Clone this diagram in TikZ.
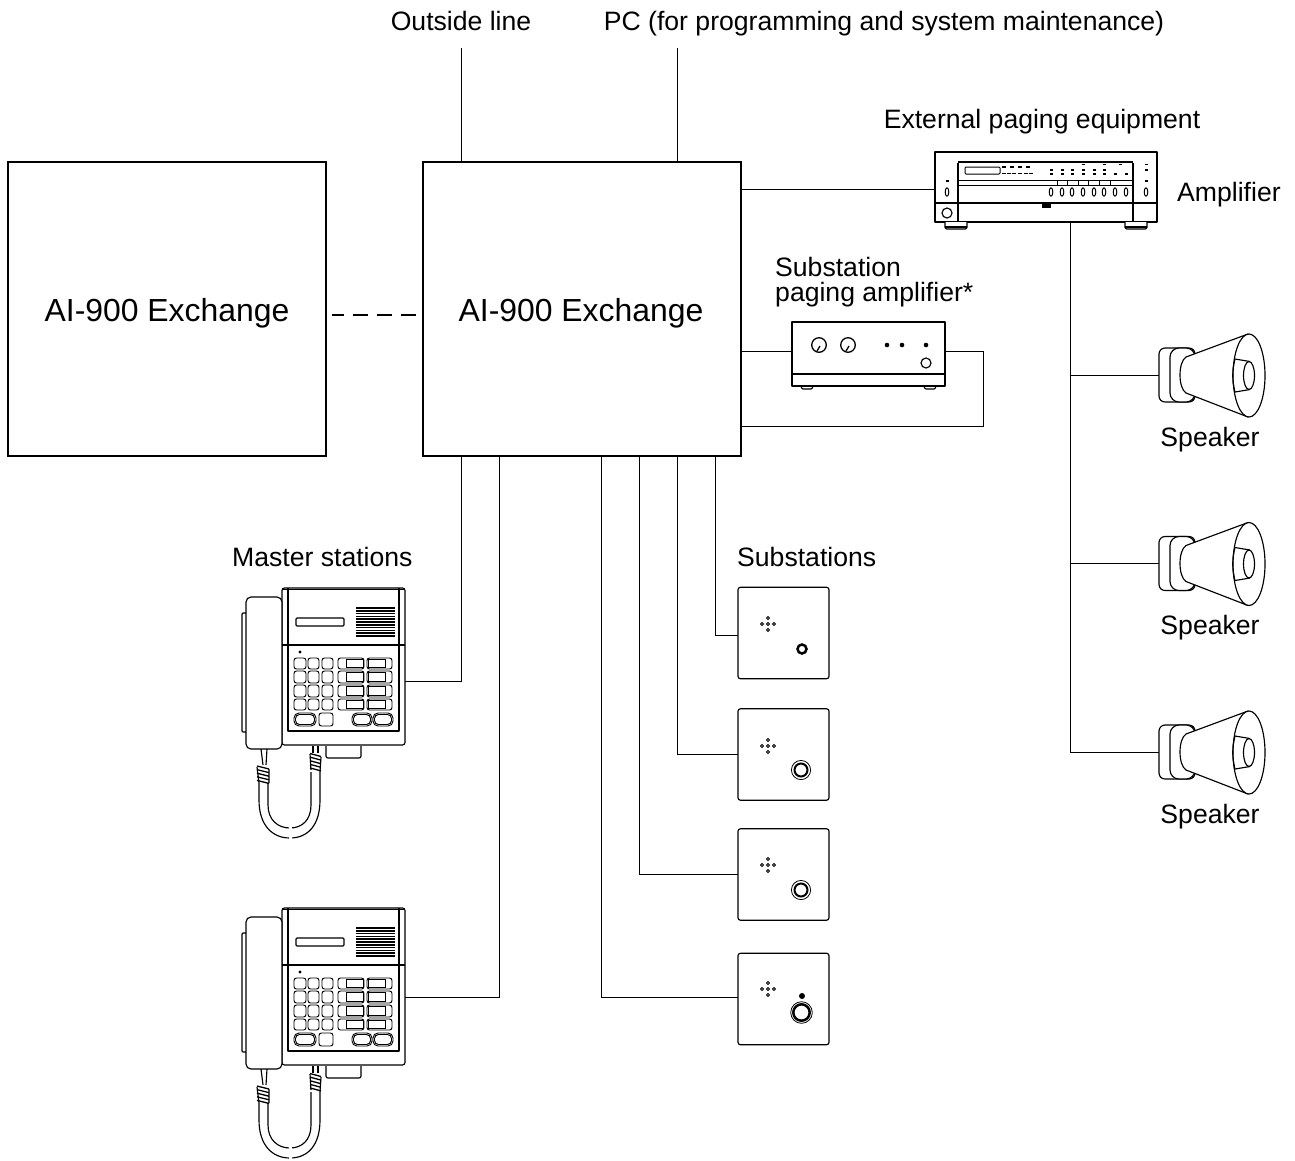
\documentclass[tikz,border=0pt]{standalone}
\usepackage{fontspec}
\setmainfont{Liberation Sans}
\tikzset{
  x=1pt,y=-1pt,
  wire/.style={line width=1pt,line cap=butt},
  dev/.style={line width=1.15pt,line join=round},
  thin part/.style={line width=.95pt},
  devbox/.style={draw,dev,fill=white,inner sep=0,outer sep=0},
  exch/.style={draw,line width=2pt,inner sep=0,outer sep=0,minimum width=318pt,minimum height=294pt},
  lab/.style={anchor=base west,inner sep=0,font=\fontsize{26.6pt}{30pt}\selectfont},
  labm/.style={anchor=base,inner sep=0,font=\fontsize{26.6pt}{30pt}\selectfont},
  substn/.style={devbox,rounded corners=2.5pt,minimum width=91pt,minimum height=91.5pt},
  phonebody/.style={devbox,rounded corners=2.5pt,minimum width=123pt,minimum height=157pt},
  spkplate/.style={devbox,rounded corners=6pt,minimum width=36pt,minimum height=54pt},
  keyk/.style={thin part,rounded corners=2.5pt},
  phone/.pic={
    \draw[dev,fill=white,rounded corners=1pt] (242,613) rectangle (247,732);
    \draw[dev,fill=white,rounded corners=5pt] (246,597) rectangle (282,749);
    \draw[dev] (288,645) -- (288,731) -- (399,731) -- (399,645);
    \draw[line width=1.5pt] (288,588) -- (288,645) (399,588) -- (399,645);
    \draw[line width=1.5pt] (282,645) -- (405,645);
    \draw[line width=1.5pt] (283,589.5) -- (404,589.5);
    \draw[dev,rounded corners=1pt] (296,618) rectangle (344,626);
    \foreach \g in {608,610.8,...,636.5} \draw[line width=1.6pt] (356,\g) -- (395,\g);
    \fill (300,652) circle (1.6);
    \foreach \ya/\yb in {658/669,671/683,685/697,699/710}{
      \draw[keyk] (294,\ya) rectangle (306,\yb);
      \draw[keyk] (308,\ya) rectangle (319,\yb);
      \draw[keyk] (322,\ya) rectangle (333,\yb);
      \draw[keyk] (338,\ya) rectangle (364,\yb);
      \draw[keyk] (367,\ya) rectangle (392,\yb);
      \draw[thin part] (346,\ya+1.5) rectangle (363,\yb-1.5);
      \draw[thin part] (368,\ya+1.5) rectangle (385,\yb-1.5);
    }
    \draw[thin part,rounded corners=5pt] (294,713) rectangle (316,726);
    \draw[thin part,rounded corners=4pt] (295.5,714.5) rectangle (314.5,724.5);
    \draw[keyk] (319,713) rectangle (333,726);
    \draw[thin part,rounded corners=5pt] (352,713) rectangle (372,726);
    \draw[thin part,rounded corners=4pt] (353.5,714.5) rectangle (370.5,724.5);
    \draw[thin part,rounded corners=5pt] (373,713) rectangle (393,726);
    \draw[thin part,rounded corners=4pt] (374.5,714.5) rectangle (391.5,724.5);
    \draw[dev,rounded corners=2pt] (326,746) -- (326,758) -- (361,758) -- (361,746);
    % cord
    \draw[dev] (261,749) -- (263,765) (267,749) -- (266,765);
    \draw[dev] (313,746) -- (313,753) (318,746) -- (318,753);
    \draw[dev] (259,783) -- (259,800) .. controls (259,825) and (272,838) .. (290,838) .. controls (308,838) and (320,825) .. (320,800) -- (320,772);
    \draw[dev] (268,783) -- (268,805) .. controls (268,820) and (278,828) .. (290,828) .. controls (302,828) and (311,820) .. (311,805) -- (311,772);
    \draw[white,line width=2pt] (288.5,838) -- (291.5,838) (288.5,828) -- (291.5,828);
    \foreach \s in {0,3.6,...,14.5}{
      \draw[line width=1.3pt] (257,766+\s) -- (269,769+\s);
      \draw[line width=1.3pt] (310,753.5+\s) -- (321,756.5+\s);
    }
    \draw[dev] (257,767) -- (259,783) (269,769) -- (269,783);
    \draw[dev] (310,754) -- (311,770) (321,757) -- (320,772);
  },
  speaker/.pic={
    \draw[dev,fill=white,rounded corners=9pt] (1170,348) -- (1195,348) -- (1195,402) -- (1170,402) -- cycle;
    \draw[dev,fill=white] (1248,334) -- (1186,357) .. controls (1178,362) and (1178,388) .. (1186,393) -- (1248,417) -- cycle;
    \draw[dev,fill=white] (1249,375.5) ellipse (16 and 41.5);
    \draw[dev] (1235,359) -- (1250,361.5) (1235,392) -- (1250,389.5);
    \draw[dev] (1235,359) .. controls (1232,370) and (1232,381) .. (1235,392);
    \draw[dev] (1249,375.5) ellipse (5.5 and 14);
  },
  substuff/.pic={
    \foreach \dx/\dy in {0/0,-6/0,6/0,0/-6,0/6}
      \draw[line width=1pt] (768+\dx,624+\dy) circle (1.5);
  },
  ticks/.pic={\fill (-1.5,-.6) rectangle (1.5,.6);},
  zero/.pic={\draw[line width=1pt] (0,0) ellipse (1.8 and 4.2);}
}
\begin{document}
\begin{tikzpicture}
\useasboundingbox (0,0) rectangle (1295,1160);
% exchanges
\node[exch] (ex1) at (167,309) {};
\node[exch] (ex2) at (582,309) {};
\node[anchor=base,inner sep=0,font=\fontsize{31.9pt}{36pt}\selectfont] (ex1t) at (167,321) {AI-900 Exchange};
\node[anchor=base,inner sep=0,font=\fontsize{31.9pt}{36pt}\selectfont] (ex2t) at (581,321) {AI-900 Exchange};
% device bodies
\node[phonebody] (phA) at (343.5,666.5) {};
\node[phonebody] (phB) at (343.5,986.5) {};
\node[substn] (s1) at (783.5,633) {};
\node[substn] (s2) at (783.5,754.5) {};
\node[substn] (s3) at (783.5,874.5) {};
\node[substn] (s4) at (783.5,999) {};
\node[devbox,minimum width=222pt,minimum height=70pt] (amp) at (1046,187) {};
\node[devbox,minimum width=153pt,minimum height=64pt] (subamp) at (868.5,354) {};
\node[spkplate] (sp1) at (1177,375) {};
\node[spkplate] (sp2) at (1177,563.5) {};
\node[spkplate] (sp3) at (1177,752) {};
% free ends
\coordinate (olin) at (461,48);
\coordinate (pcin) at (677,48);
\coordinate (subturn) at (983,426);
% connectors
\draw[wire] ([xshift=-121pt]ex2.north) -- (olin);
\draw[wire] ([xshift=95pt]ex2.north) -- (pcin);
\draw[line width=2pt,dash pattern=on 15pt off 9pt,dash phase=3pt] ([xshift=6pt,yshift=-6pt]ex1.east) -- ([xshift=-6pt,yshift=-6pt]ex2.west);
\draw[wire] ([yshift=120pt]ex2.east) -- ([yshift=-2pt]amp.west);
\draw[wire] ([yshift=-42pt]ex2.east) -- ([yshift=3pt]subamp.west);
\draw[wire] ([yshift=3pt]subamp.east) -| (subturn) -- ([yshift=-117pt]ex2.east);
\draw[wire] ([xshift=-121pt]ex2.south) |- ([yshift=-14.5pt]phA.east);
\draw[wire] ([xshift=-83pt]ex2.south) |- ([yshift=-10.5pt]phB.east);
\draw[wire] ([xshift=19pt]ex2.south) |- ([yshift=2pt]s4.west);
\draw[wire] ([xshift=57pt]ex2.south) |- (s3.west);
\draw[wire] ([xshift=95pt]ex2.south) |- (s2.west);
\draw[wire] ([xshift=133pt]ex2.south) |- ([yshift=-2pt]s1.west);
\draw[wire] ([xshift=24pt]amp.south) |- (sp3.west);
\draw[wire] ([xshift=24pt]amp.south) |- (sp2.west);
\draw[wire] ([xshift=24pt]amp.south) |- (sp1.west);
% phones
\pic at (0,0) {phone};
\pic at (0,320) {phone};
% substations
\pic at (0,0) {substuff};
\pic at (0,122) {substuff};
\pic at (0,241) {substuff};
\pic at (0,365) {substuff};
\draw[line width=2.5pt] (802,649) circle (4.5);
\foreach \cy in {770,890}{
  \draw[line width=2pt] (801,\cy) circle (6.5);
  \draw[line width=.8pt] (801,\cy) circle (9.6);
}
\draw[line width=2.5pt] (801.5,1012.5) circle (8.2);
\draw[line width=.8pt] (801.5,1012.5) circle (10.8);
\fill (802,996) circle (3);
% amplifier
\draw[dev] (935,203) -- (1157,203);
\draw[dev] (958,222) -- (958,163) (1133,222) -- (1133,163);
\draw[line width=1.8pt] (958,162) -- (1133,162);
\draw[line width=.9pt] (958,180) -- (1133,180) (958,185) -- (1133,185);
\draw[line width=1pt,rounded corners=1pt] (965,167) rectangle (1000,174);
\foreach \lx in {1002,1007,1012,1018,1024,1029}{\draw[line width=1.3pt] (\lx,173.5) -- +(4,0);}
\foreach \lx in {1002,1010,1018,1026}{\draw[line width=1.3pt] (\lx,167) -- +(3.5,0);}
\foreach \lx in {1051,1062,1072,1083,1094,1104}{
  \pic at (\lx,174) {ticks};
  \pic at (\lx,170) {ticks};
}
\foreach \lx in {1083,1104,1120}{\pic at (\lx,164.5) {ticks};}
\foreach \lx in {1115,1126}{\pic at (\lx,174) {ticks};}
\foreach \lx in {1057,1067.5,1078,1088.5,1099,1110}{\draw[line width=.9pt] (\lx,180) -- (\lx,185);}
\foreach \lx in {1051,1062,1072,1083,1094,1104,1115,1126}{\pic at (\lx,192) {zero};}
\pic at (947,192) {zero};
\pic at (1146,192) {zero};
\pic at (947,181) {ticks};
\pic at (1146,181) {ticks};
\pic at (1146,164.5) {ticks};
\pic at (1146,170) {ticks};
\draw[dev] (947,213) circle (5);
\fill (1042,204) rectangle (1051,208);
\draw[dev,fill=white,rounded corners=1.5pt] (945,222) -- (945,229) -- (967,229) -- (967,222);
\draw[dev,fill=white,rounded corners=1.5pt] (1125,222) -- (1125,229) -- (1147,229) -- (1147,222);
\fill (945,225.5) rectangle (967,228);
\fill (1125,225.5) rectangle (1147,228);
% paging amp
\draw[dev] (792,374) -- (945,374);
\draw[dev,rounded corners=1pt] (801,386) -- (802,389) -- (812,389) -- (813,386);
\draw[dev,rounded corners=1pt] (924,386) -- (925,389) -- (935,389) -- (936,386);
\foreach \kx in {819,848}{
  \draw[line width=1.3pt] (\kx,345) circle (7.3);
  \draw[line width=1.3pt] (\kx-2,351) -- (\kx+1,346);
}
\foreach \dx in {887,902,926}{\fill (\dx,345) circle (2.3);}
\draw[dev] (926,363) circle (5);
% speakers
\pic at (0,0) {speaker};
\pic at (0,188.5) {speaker};
\pic at (0,377) {speaker};
% labels
\node[labm] (t1) at (461,30) {Outside line};
\node[labm] (t2) at (884,30) {PC (for programming and system maintenance)};
\node[labm] (t3) at (1042,128) {External paging equipment};
\node[lab] (t4) at (1177,201) {Amplifier};
\node[lab] (t5) at (775,276) {Substation};
\node[lab] (t6) at (775,301) {paging amplifier*};
\node[lab] (t7) at (232,566) {Master stations};
\node[lab] (t8) at (737,566) {Substations};
\node[labm] (t9) at (1210,446) {Speaker};
\node[labm] (t10) at (1210,634) {Speaker};
\node[labm] (t11) at (1210,823) {Speaker};
\end{tikzpicture}
\end{document}
